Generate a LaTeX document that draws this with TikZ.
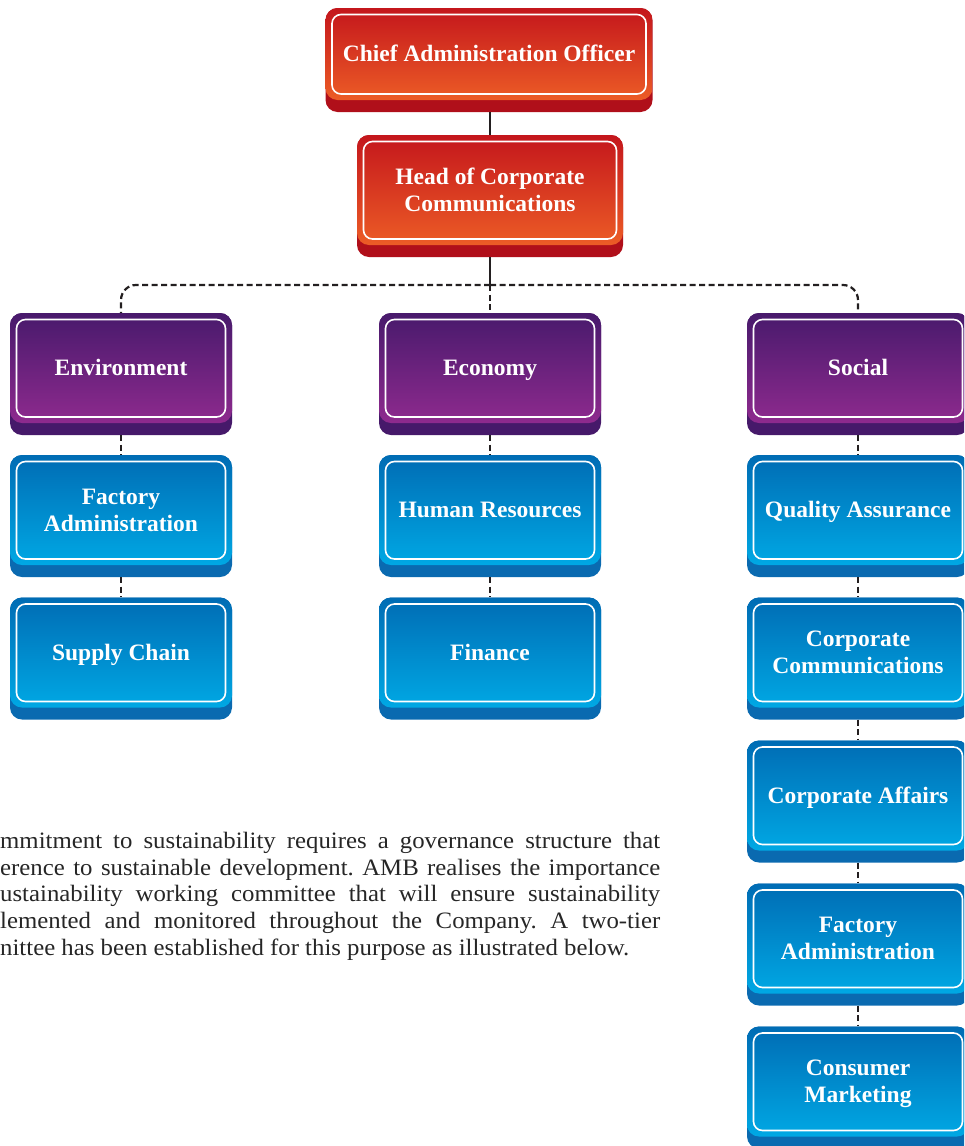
\documentclass[tikz,border=0pt]{standalone}
\usepackage{fontspec}
\setmainfont{Liberation Serif}
\newfontfamily\bodyfont[FakeStretch=1.055]{Liberation Serif}

% box colour schemes: face top / face bottom / lower band
\definecolor{redtop}{HTML}{C4161C}
\definecolor{redbot}{HTML}{EC5C26}
\definecolor{redband}{HTML}{B00F1A}
\definecolor{purpletop}{HTML}{481A6C}
\definecolor{purplebot}{HTML}{8E2A8E}
\definecolor{purpleband}{HTML}{46196A}
\definecolor{bluetop}{HTML}{006CB4}
\definecolor{bluebot}{HTML}{00A8E4}
\definecolor{blueband}{HTML}{0A6AB0}
\definecolor{linkcol}{HTML}{231F20}
\definecolor{bodytext}{HTML}{262626}

% struts that centre the cap height on the node centre, descenders included
\newcommand{\lbltop}{\rule{0pt}{21.6pt}}
\newcommand{\lblbot}{\rule[-6pt]{0pt}{6pt}}

\tikzset{
  boxlabel/.style={inner sep=0pt, text=white, align=center,
    font=\fontsize{23.5}{27}\selectfont\bfseries},
  solidlink/.style={draw=linkcol, line width=2.4pt},
  dashlink/.style={draw=linkcol, line width=2.2pt, dash pattern=on 6pt off 3.5pt},
  bodyline/.style={inner sep=0pt, anchor=base west, text=bodytext,
    font=\bodyfont\fontsize{23.5}{26.5}\selectfont\frenchspacing},
}

% \tierbox{name}{centre x}{top y}{width}{height}{face height}{scheme}{label}
\newcommand{\tierbox}[8]{%
  \fill[#7band, rounded corners=12pt] ({#2-#4/2},#3) rectangle ({#2+#4/2},{#3+#5});
  \shade[top color=#7top, bottom color=#7bot, rounded corners=12pt]
    ({#2-#4/2},#3) rectangle ({#2+#4/2},{#3+#6});
  \draw[white, line width=1.6pt, rounded corners=9pt]
    ({#2-#4/2+6.5},{#3+6.5}) rectangle ({#2+#4/2-6.5},{#3+#6-6});
  \node[inner sep=0pt, minimum width=#4pt, minimum height=#5pt] (#1) at (#2,{#3+#5/2}) {};
  \node[boxlabel] (#1-text) at (#2,{#3+#6/2}) {\lbltop#8\lblbot};
}

\begin{document}
\begin{tikzpicture}[x=1pt, y=-1pt]
\useasboundingbox (0,0) rectangle (964,1146);
\clip (0,0) rectangle (964,1146);

\coordinate (junction) at (490,285);

% boxes
\tierbox{cao}{489}{8}{327}{104}{92}{red}{Chief Administration Officer}
\tierbox{hcc}{490}{135}{266}{122}{110}{red}{Head of Corporate\\Communications}

\tierbox{env}{121}{313}{222}{122}{110}{purple}{Environment}
\tierbox{eco}{490}{313}{222}{122}{110}{purple}{Economy}
\tierbox{soc}{858}{313}{222}{122}{110}{purple}{Social}

\tierbox{envfa}{121}{455}{222}{122}{110}{blue}{Factory\\Administration}
\tierbox{envsc}{121}{597.5}{222}{122}{110}{blue}{Supply Chain}

\tierbox{ecohr}{490}{455}{222}{122}{110}{blue}{Human Resources}
\tierbox{ecofin}{490}{597.5}{222}{122}{110}{blue}{Finance}

\tierbox{socqa}{858}{455}{222}{122}{110}{blue}{Quality Assurance}
\tierbox{soccc}{858}{597.5}{222}{122}{110}{blue}{Corporate\\Communications}
\tierbox{socca}{858}{740.5}{222}{122}{110}{blue}{Corporate Affairs}
\tierbox{socfa}{858}{883.5}{222}{122}{110}{blue}{Factory\\Administration}
\tierbox{soccm}{858}{1026.5}{222}{122}{110}{blue}{Consumer\\Marketing}

% top-level solid links
\draw[solidlink] (hcc.north) -- (hcc.north |- cao.south);
\draw[solidlink] (hcc.south) -- (junction);

% dashed distribution line to the three pillars
\draw[dashlink, rounded corners=15pt] (junction) -| (env.north);
\draw[dashlink, rounded corners=15pt] (junction) -| (soc.north);
\draw[dashlink] (junction) -- (eco.north);

% dashed links down each column
\draw[dashlink] (env.south) -- (envfa.north);
\draw[dashlink] (envfa.south) -- (envsc.north);
\draw[dashlink] (eco.south) -- (ecohr.north);
\draw[dashlink] (ecohr.south) -- (ecofin.north);
\draw[dashlink] (soc.south) -- (socqa.north);
\draw[dashlink] (socqa.south) -- (soccc.north);
\draw[dashlink] (soccc.south) -- (socca.north);
\draw[dashlink] (socca.south) -- (socfa.north);
\draw[dashlink] (socfa.south) -- (soccm.north);

% paragraph of body text
\node[bodyline] (p1) at (0,848.5) {\makebox[660pt][s]{mmitment to sustainability requires a governance structure that}};
\node[bodyline] (p2) at (0,875) {\makebox[660pt][s]{erence to sustainable development. AMB realises the importance}};
\node[bodyline] (p3) at (0,901.5) {\makebox[660pt][s]{ustainability working committee that will ensure sustainability}};
\node[bodyline] (p4) at (0,928) {\makebox[660pt][s]{lemented and monitored throughout the Company. A two-tier}};
\node[bodyline] (p5) at (0,955) {nittee has been established for this purpose as illustrated below.};
\end{tikzpicture}
\end{document}
